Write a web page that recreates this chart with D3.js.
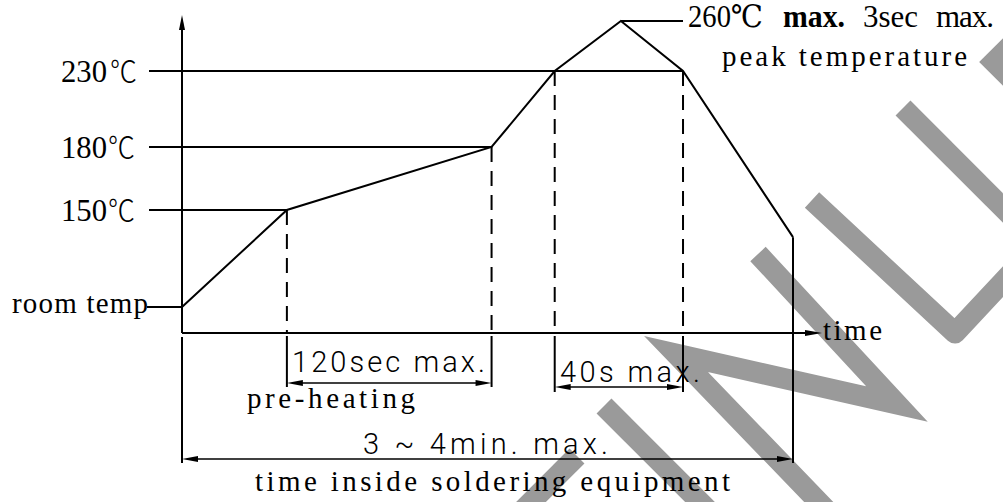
<!DOCTYPE html>
<html><head><meta charset="utf-8">
<script src="https://cdn.jsdelivr.net/npm/d3@7"></script>
<style>html,body{margin:0;padding:0;background:#fff;overflow:hidden}</style>
</head><body><svg id="c" width="1003" height="502"></svg>
<script>
// ---------- data ----------
const stageNames = ["room temp", "preheat start", "preheat end", "reflow start", "peak", "reflow end", "exit"];
const stageTime  = [0, 51.5, 152, 183, 215.5, 246, 300];   // schematic time units
const stageTemp  = [25, 150, 180, 230, 260, 230, 115];     // °C (schematic)
const tempTicks      = [150, 180, 230];
const tempTickLabels = ["150", "180", "230"];
const tempUnit = "℃";
const tempTickStage  = [1, 2, 5];           // stage where the guide line ends
const dashedStages   = [1, 2, 3, 5];
const dimFrom   = [1, 3, 0];
const dimTo     = [2, 5, 6];
const dimLabels = ["120sec max.", "40s max.", "3 ~ 4min. max."];
const dimNotes  = ["pre-heating", "", "time inside soldering equipment"];
const peakLabelParts = ["260℃", "max.", "3sec", "max."];
const peakNote = "peak temperature";
const roomLabel = "room temp";
const timeLabel = "time";

// ---------- layout ----------
const svg = d3.select("#c");
const x = d3.scaleLinear().domain([0, 300]).range([182, 793]);
const y = d3.scaleLinear().domain([0, 25, 150, 180, 230, 260]).range([333, 307, 210, 147, 71, 21]);
const pts = stageTime.map((t, i) => [x(t), y(stageTemp[i])]);

const serif = "'Liberation Serif','DejaVu Serif','Times New Roman',serif";
const mono  = "'Liberation Serif','DejaVu Serif',serif";
const sans  = "Roboto,'Open Sans','DejaVu Sans',sans-serif";
const cjk   = "'Noto Sans CJK SC','Noto Sans CJK JP',sans-serif";

// ---------- watermark (under everything) ----------
const wm = [
  {p: [[758,254],[897,404],[676,354],[838,522]], join: "miter"},
  {p: [[604,406],[722,524]], join: "miter"},
  {p: [[577,456],[520,513]], join: "miter"},
  {p: [[812,200],[955,333],[1012,272]], join: "round"},
  {p: [[903,108],[1030,235]], join: "miter"},
  {p: [[1040,16],[994,62],[1040,108]], join: "miter"}
];
svg.append("g").selectAll("path").data(wm).join("path")
  .attr("d", d => d3.line()(d.p))
  .attr("fill", "none").attr("stroke", "#9a9a9a").attr("stroke-width", 21)
  .attr("stroke-linejoin", d => d.join).attr("stroke-linecap", "butt");

const g = svg.append("g").attr("stroke", "#000").attr("fill", "none");

function arrow(tipX, tipY, dir, len, half) {
  let p;
  if (dir === "up") p = [[tipX, tipY], [tipX - half, tipY + len], [tipX + half, tipY + len]];
  if (dir === "right") p = [[tipX, tipY], [tipX - len, tipY - half], [tipX - len, tipY + half]];
  if (dir === "left") p = [[tipX, tipY], [tipX + len, tipY - half], [tipX + len, tipY + half]];
  svg.append("path").attr("d", d3.line()(p) + "Z").attr("fill", "#000").attr("stroke", "none");
}

function label(txt, x0, y0, fam, size, w, adj, weight) {
  return svg.append("text").attr("x", x0).attr("y", y0)
    .attr("font-family", fam).attr("font-size", size).attr("font-weight", weight || 400)
    .attr("textLength", w).attr("lengthAdjust", adj || "spacingAndGlyphs").text(txt);
}

// axes
g.append("line").attr("x1", x(0)).attr("x2", x(0)).attr("y1", y(0)).attr("y2", 28).attr("stroke-width", 2);
arrow(x(0), 15, "up", 15, 3);
g.append("line").attr("x1", x(0)).attr("x2", 808).attr("y1", y(0)).attr("y2", y(0)).attr("stroke-width", 2);
arrow(822, y(0), "right", 17, 3);

// temperature guide lines + labels
tempTicks.forEach((v, i) => {
  g.append("line").attr("x1", 149).attr("x2", pts[tempTickStage[i]][0])
    .attr("y1", y(v)).attr("y2", y(v)).attr("stroke-width", 2);
  label(tempTickLabels[i], 61, y(v) + 11, serif, 32, 46);
  label(tempUnit, i === 2 ? 110 : 108, y(v) + 11, cjk, 30, 27, "spacingAndGlyphs", 300);
});

// room temp
g.append("line").attr("x1", 147).attr("x2", x(0)).attr("y1", y(stageTemp[0])).attr("y2", y(stageTemp[0])).attr("stroke-width", 2);
label(roomLabel, 12, y(stageTemp[0]) + 6, mono, 29, 136, "spacing");

// peak leader + labels
g.append("line").attr("x1", pts[4][0]).attr("x2", 683).attr("y1", pts[4][1]).attr("y2", pts[4][1]).attr("stroke-width", 2);
const peakX = [688, 783, 863, 936], peakW = [75, 62, 55, 58];
const peakB = [400, 700, 400, 400];
peakLabelParts.forEach((s, i) => label(s, peakX[i], 27, serif, 31, peakW[i], i === 3 ? "spacing" : "spacingAndGlyphs", peakB[i]));
label(peakNote, 722, 66, mono, 29, 245, "spacing");

// time label
label(timeLabel, 823, 340, mono, 29, 59, "spacing");

// profile curve
g.append("path").attr("d", d3.line()(pts)).attr("stroke-width", 2).attr("stroke-linejoin", "miter");

// dashed verticals
dashedStages.forEach(s => {
  g.append("line").attr("x1", pts[s][0]).attr("x2", pts[s][0])
    .attr("y1", pts[s][1]).attr("y2", y(0))
    .attr("stroke-width", 2).attr("stroke-dasharray", "15,9");
});

// extension lines below axis
const extBottom = {0: 463, 1: 387, 2: 387, 3: 392, 5: 392, 6: 463};
Object.keys(extBottom).forEach(k => {
  const s = +k;
  const top = s === 6 ? pts[6][1] : (s === 0 ? 337 : 336);
  g.append("line").attr("x1", pts[s][0]).attr("x2", pts[s][0])
    .attr("y1", top).attr("y2", extBottom[s]).attr("stroke-width", 2);
});

// dimension arrows
const dimY = [383, 387, 459];
const dimLabelX = [292, 560, 363], dimLabelY = [372, 382, 454], dimLabelW = [193, 140, 245];
const noteX = [247, 0, 255], noteY = [408, 0, 491], noteW = [168, 0, 475];
dimLabels.forEach((lab, i) => {
  const x1 = pts[dimFrom[i]][0], x2 = pts[dimTo[i]][0];
  g.append("line").attr("x1", x1 + 10).attr("x2", x2 - 10).attr("y1", dimY[i]).attr("y2", dimY[i]).attr("stroke-width", 1.6);
  arrow(x1, dimY[i], "left", 16, 3);
  arrow(x2, dimY[i], "right", 16, 3);
  label(lab, dimLabelX[i], dimLabelY[i], sans, 29, dimLabelW[i], "spacing", 300);
  if (dimNotes[i]) label(dimNotes[i], noteX[i], noteY[i], mono, 29, noteW[i], "spacing");
});
</script>
</body></html>
